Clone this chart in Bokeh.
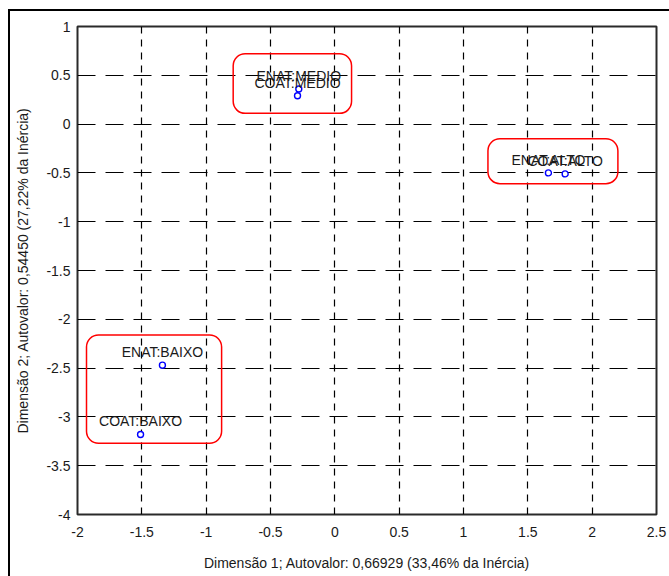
from bokeh.plotting import figure
from bokeh.models import (ColumnDataSource, LabelSet, BoxAnnotation, FixedTicker, InlineStyleSheet)
from bokeh.core.properties import value
from bokeh.embed import file_html
from bokeh.resources import INLINE

# Category coordinates on the first two dimensions
labels = ["ENAT:ALTO", "COAT:ALTO", "ENAT:MEDIO", "COAT:MEDIO", "ENAT:BAIXO", "COAT:BAIXO"]
dim1 = [1.66, 1.79, -0.28, -0.29, -1.34, -1.51]
dim2 = [-0.50, -0.51, 0.36, 0.29, -2.47, -3.18]

# Highlighted groups: (left, right, top, bottom) in data units
groups = [
    (-0.79, 0.13, 0.72, 0.11),
    (1.19, 2.20, -0.15, -0.61),
    (-1.93, -0.88, -2.16, -3.27),
]

x_ticks = [-2, -1.5, -1, -0.5, 0, 0.5, 1, 1.5, 2, 2.5]
x_tick_labels = ["-2", "-1.5", "-1", "-0.5", "0", "0.5", "1", "1.5", "2", "2.5"]
y_ticks = [-4, -3.5, -3, -2.5, -2, -1.5, -1, -0.5, 0, 0.5, 1]
y_tick_labels = ["-4", "-3.5", "-3", "-2.5", "-2", "-1.5", "-1", "-0.5", "0", "0.5", "1"]

x_title = "Dimensão 1; Autovalor: 0,66929 (33,46% da Inércia)"
y_title = "Dimensão 2; Autovalor: 0,54450 (27,22% da Inércia)"

FONT = "Liberation Sans"

# outer frame of the graphic, drawn around the whole canvas
frame_css = InlineStyleSheet(css="""
:host { position: relative; }
:host::after {
  content: '';
  position: absolute;
  left: 8px; top: 9px; right: 0; bottom: 0;
  border-left: 2px solid black;
  border-top: 2px solid black;
  pointer-events: none;
  z-index: 10;
}
""")

p = figure(width=669, height=576, output_backend="svg", toolbar_location=None,
           x_range=(-2, 2.5), y_range=(-4, 1),
           min_border_left=77, min_border_right=13, min_border_top=26, min_border_bottom=62,
           stylesheets=[frame_css])
p.background_fill_color = "white"
p.border_fill_color = "white"
p.outline_line_color = "#2a2a2a"
p.outline_line_width = 2

# dashed grid every 0.5
p.xgrid.ticker = FixedTicker(ticks=x_ticks)
p.ygrid.ticker = FixedTicker(ticks=y_ticks)
p.xgrid.grid_line_color = "black"
p.ygrid.grid_line_color = "black"
p.xgrid.grid_line_width = 1.2
p.ygrid.grid_line_width = 1.2
p.xgrid.grid_line_dash = "7 6"
p.ygrid.grid_line_dash = "18 10"

for ax, ticks, tl in ((p.xaxis[0], x_ticks, x_tick_labels), (p.yaxis[0], y_ticks, y_tick_labels)):
    ax.ticker = FixedTicker(ticks=ticks)
    ax.major_label_overrides = {t: s for t, s in zip(ticks, tl)}
    ax.axis_line_color = None
    ax.major_tick_line_color = None
    ax.minor_tick_line_color = None
    ax.major_tick_out = 0
    ax.major_label_text_font = FONT
    ax.major_label_text_font_size = "14px"
    ax.major_label_text_color = "#1a1a1a"
    ax.axis_label_text_font = FONT
    ax.axis_label_text_font_size = "14px"
    ax.axis_label_text_font_style = "normal"
    ax.axis_label_text_color = "#1a1a1a"

p.xaxis.axis_label = x_title
p.yaxis.axis_label = y_title
p.xaxis.major_label_standoff = 12
p.yaxis.major_label_standoff = 7
p.xaxis.axis_label_standoff = 15
p.yaxis.axis_label_standoff = 12

# rounded group boxes
for (l, r, t, b) in groups:
    p.add_layout(BoxAnnotation(left=l, right=r, top=t, bottom=b,
                               fill_alpha=0, line_color="#ff0000", line_alpha=1.0,
                               line_width=1.5, border_radius=12))

src = ColumnDataSource(dict(x=dim1, y=dim2, label=labels))
p.scatter("x", "y", source=src, size=6, marker="circle",
          line_color="#0000ff", fill_color="white", line_width=1.4)

p.add_layout(LabelSet(x="x", y="y", text="label", source=src,
                      text_align="center", text_baseline="middle", y_offset=13,
                      text_font=value(FONT), text_font_size="14px", text_color="#1a1a1a"))

open("out.html", "w").write(file_html(p, INLINE))
